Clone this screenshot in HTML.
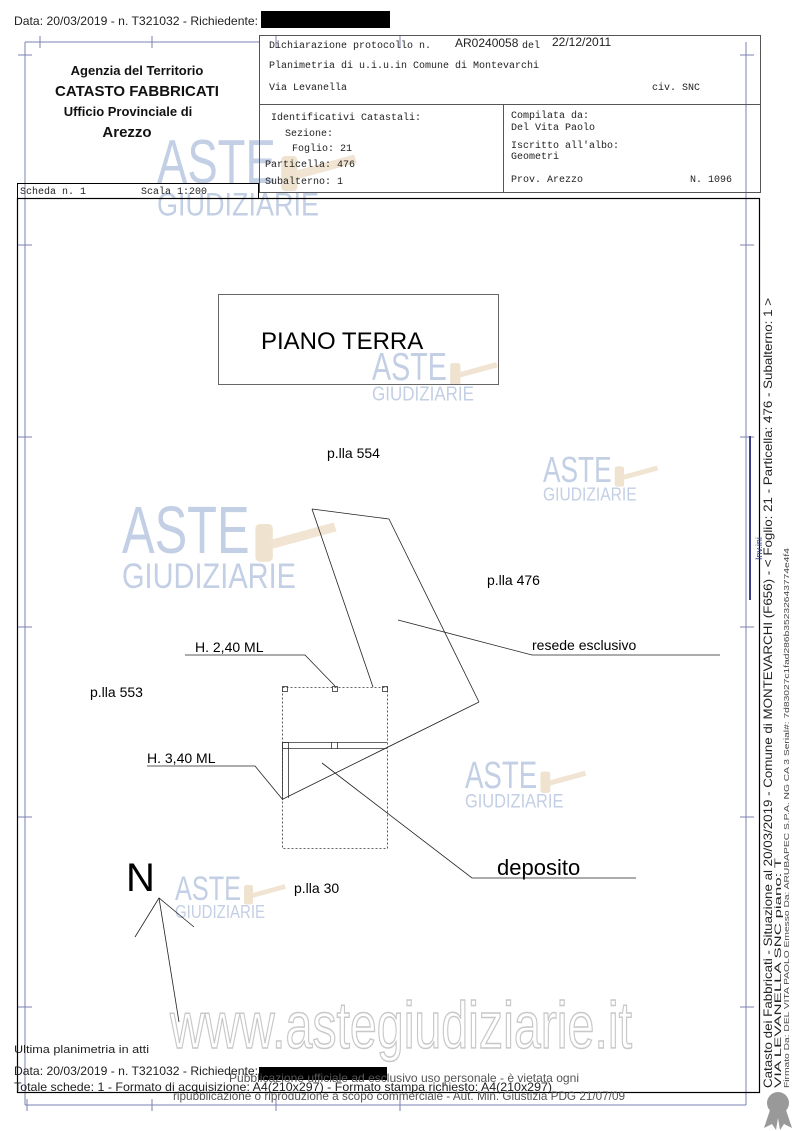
<!DOCTYPE html>
<html><head><meta charset="utf-8"><style>
html,body{margin:0;padding:0;background:#fff}
svg{display:block}
</style></head><body>
<svg width="800" height="1131" viewBox="0 0 800 1131" xmlns="http://www.w3.org/2000/svg" font-family="Liberation Sans, sans-serif">
<defs>
<g id="wm">
<text x="0" y="0" font-size="46" fill="#c3cfe4" textLength="88" lengthAdjust="spacingAndGlyphs">ASTE</text>
<text x="0" y="24" font-size="24" fill="#c3cfe4" textLength="120" lengthAdjust="spacingAndGlyphs">GIUDIZIARIE</text>
<rect x="92" y="-20" width="12" height="26" rx="3" fill="#efe2cf"/>
<path d="M102 -9 L146 -21 L148 -15 L104 -3 Z" fill="#f1e4d2"/>
</g>
</defs>
<text x="14" y="25" font-size="12" fill="#222" textLength="244" lengthAdjust="spacingAndGlyphs">Data: 20/03/2019 - n. T321032 - Richiedente:</text>
<rect x="261" y="11" width="129" height="17" fill="#000"/>
<g stroke="#7a80b0" stroke-width="1" fill="none">
<line x1="25" y1="42" x2="25" y2="1105"/>
<line x1="746" y1="42" x2="746" y2="1105"/>
<line x1="25" y1="42" x2="259" y2="42"/>
<line x1="25" y1="1105" x2="746" y2="1105"/>
<line x1="40" y1="36" x2="40" y2="48"/><line x1="152" y1="36" x2="152" y2="48"/>
<line x1="18" y1="55" x2="32" y2="55"/><line x1="740" y1="55" x2="754" y2="55"/>
<line x1="18" y1="245" x2="32" y2="245"/><line x1="740" y1="245" x2="754" y2="245"/>
<line x1="18" y1="437" x2="32" y2="437"/><line x1="740" y1="437" x2="754" y2="437"/>
<line x1="18" y1="627" x2="32" y2="627"/><line x1="740" y1="627" x2="754" y2="627"/>
<line x1="18" y1="817" x2="32" y2="817"/><line x1="740" y1="817" x2="754" y2="817"/>
<line x1="18" y1="1007" x2="32" y2="1007"/><line x1="740" y1="1007" x2="754" y2="1007"/>
<line x1="27" y1="1099" x2="27" y2="1111"/><line x1="152" y1="1099" x2="152" y2="1111"/>
<line x1="276" y1="1099" x2="276" y2="1111"/><line x1="400" y1="1099" x2="400" y2="1111"/>
<line x1="276" y1="36" x2="276" y2="48"/><line x1="400" y1="36" x2="400" y2="48"/>
</g>
<line x1="750" y1="436" x2="750" y2="600" stroke="#3a3f8a" stroke-width="2"/>
<!-- watermarks -->
<g transform="translate(157 183) scale(1.35)"><use href="#wm"/></g>
<g transform="translate(372 380) scale(0.85)"><use href="#wm"/></g>
<g transform="translate(543 482) scale(0.78)"><use href="#wm"/></g>
<g transform="translate(122 553) scale(1.45)"><use href="#wm"/></g>
<g transform="translate(465 788) scale(0.82)"><use href="#wm"/></g>
<g transform="translate(175 900) scale(0.75)"><use href="#wm"/></g>
<g font-weight="bold" fill="#111" text-anchor="middle">
<text x="137" y="75" font-size="13">Agenzia del Territorio</text>
<text x="137" y="96" font-size="15">CATASTO FABBRICATI</text>
<text x="128" y="116" font-size="13">Ufficio Provinciale di</text>
<text x="127" y="137" font-size="15">Arezzo</text>
</g>
<g stroke="#555" stroke-width="1" fill="none">
<rect x="259.5" y="35.5" width="501" height="157"/>
<line x1="259" y1="104.5" x2="760" y2="104.5"/>
<line x1="503.5" y1="104" x2="503.5" y2="192"/>
</g>
<g font-family="Liberation Mono, monospace" font-size="10" fill="#222">
<text x="269" y="48">Dichiarazione protocollo n.</text>
<text x="455" y="47" font-family="Liberation Sans, sans-serif" font-size="12">AR0240058</text>
<text x="522" y="48">del</text>
<text x="552" y="46" font-family="Liberation Sans, sans-serif" font-size="12">22/12/2011</text>
<text x="269" y="68">Planimetria di u.i.u.in Comune di Montevarchi</text>
<text x="269" y="90">Via Levanella</text>
<text x="652" y="90">civ. SNC</text>
<text x="271" y="120">Identificativi Catastali:</text>
<text x="285" y="136">Sezione:</text>
<text x="292" y="151">Foglio: 21</text>
<text x="265" y="167">Particella: 476</text>
<text x="265" y="184">Subalterno: 1</text>
<text x="511" y="118">Compilata da:</text>
<text x="511" y="130">Del Vita Paolo</text>
<text x="511" y="148">Iscritto all'albo:</text>
<text x="511" y="159">Geometri</text>
<text x="511" y="182">Prov. Arezzo</text>
<text x="690" y="182">N. 1096</text>
<text x="20" y="194">Scheda n. 1</text>
<text x="141" y="194">Scala 1:200</text>
</g>
<rect x="17.5" y="183.5" width="241" height="15" fill="none" stroke="#000"/>
<rect x="17.5" y="198.5" width="742" height="894" fill="none" stroke="#000" stroke-width="1.2"/>
<rect x="218.5" y="294.5" width="280" height="90" fill="none" stroke="#666"/>
<text x="261" y="349" font-size="24" fill="#000">PIANO TERRA</text>
<g font-size="14" fill="#000">
<text x="327" y="458">p.lla 554</text>
<text x="487" y="585">p.lla 476</text>
<text x="90" y="697">p.lla 553</text>
<text x="294" y="893">p.lla 30</text>
<text x="532" y="650">resede esclusivo</text>
<text x="195" y="652">H. 2,40 ML</text>
<text x="147" y="763">H. 3,40 ML</text>
</g>
<text x="497" y="875" font-size="22" fill="#000">deposito</text>
<text x="126" y="891" font-size="40" fill="#000">N</text>
<g stroke="#222" stroke-width="0.8" fill="none">
<line x1="312" y1="509" x2="389" y2="519"/>
<line x1="389" y1="519" x2="479" y2="702"/>
<line x1="479" y1="702" x2="283" y2="799"/>
<line x1="312" y1="509" x2="373" y2="687"/>
<polyline points="398,620 532,655 720,655"/>
<polyline points="185,655 305,655 335,686"/>
<polyline points="147,766 255,766 283,800"/>
<polyline points="322,763 472,878 636,878"/>
<polyline points="135,937 159,898 194,927"/>
<line x1="159" y1="898" x2="179" y2="1022"/>
</g>
<g stroke="#333" stroke-width="0.8" fill="none">
<rect x="282.5" y="687.5" width="105" height="161" stroke-dasharray="2,2"/>
<rect x="282.5" y="686.5" width="5" height="5"/>
<rect x="332.5" y="686.5" width="5" height="5"/>
<rect x="382.5" y="686.5" width="5" height="5"/>
<line x1="282" y1="742.5" x2="387" y2="742.5"/>
<line x1="288" y1="748.5" x2="387" y2="748.5"/>
<line x1="282.5" y1="742" x2="282.5" y2="800"/>
<line x1="288.5" y1="748" x2="288.5" y2="798"/>
<rect x="282.5" y="742.5" width="6" height="6"/>
<line x1="331.5" y1="742" x2="331.5" y2="749"/>
<line x1="337.5" y1="742" x2="337.5" y2="749"/>
</g>
<text x="170" y="1048" font-size="66" fill="#fff" stroke="#c8c8c8" stroke-width="1.5" textLength="462" lengthAdjust="spacingAndGlyphs">www.astegiudiziarie.it</text>
<text x="14" y="1053" font-size="11" fill="#222" textLength="135" lengthAdjust="spacingAndGlyphs">Ultima planimetria in atti</text>
<text x="14" y="1075" font-size="12" fill="#222" textLength="244" lengthAdjust="spacingAndGlyphs">Data: 20/03/2019 - n. T321032 - Richiedente:</text>
<rect x="259" y="1067" width="128" height="13" fill="#000"/>
<text x="14" y="1091" font-size="12" fill="#222" textLength="538" lengthAdjust="spacingAndGlyphs">Totale schede: 1 - Formato di acquisizione: A4(210x297)  - Formato stampa richiesto: A4(210x297)</text>
<text x="229" y="1082" font-size="12" fill="#555" textLength="350" lengthAdjust="spacingAndGlyphs">Pubblicazione ufficiale ad esclusivo uso personale - è vietata ogni</text>
<text x="173" y="1100" font-size="12" fill="#555" textLength="452" lengthAdjust="spacingAndGlyphs">ripubblicazione o riproduzione a scopo commerciale - Aut. Min. Giustizia PDG 21/07/09</text>
<text transform="translate(772 1088) rotate(-90)" font-size="12" fill="#222" textLength="790" lengthAdjust="spacingAndGlyphs">Catasto dei Fabbricati - Situazione al 20/03/2019 - Comune di MONTEVARCHI (F656) - &lt; Foglio: 21 - Particella: 476 - Subalterno: 1 &gt;</text>
<text transform="translate(781 1088) rotate(-90)" font-size="9" fill="#222" textLength="230" lengthAdjust="spacingAndGlyphs">VIA LEVANELLA SNC piano: T</text>
<text transform="translate(789 1088) rotate(-90)" font-size="7" fill="#444" textLength="540" lengthAdjust="spacingAndGlyphs">Firmato Da: DEL VITA PAOLO Emesso Da: ARUBAPEC S.P.A. NG CA 3 Serial#: 7d83027c1fad286b35232643774e4f4</text>
<text transform="translate(762 560) rotate(-90)" font-size="9" fill="#3a3f8a">Inv.ini</text>
<g fill="#999">
<circle cx="778" cy="1103" r="11"/>
<path d="M770 1110 L764 1128 L772 1124 L776 1130 L779 1112 Z"/>
<path d="M786 1110 L792 1128 L784 1124 L780 1130 L777 1112 Z"/>
</g>
</svg>
</body></html>
